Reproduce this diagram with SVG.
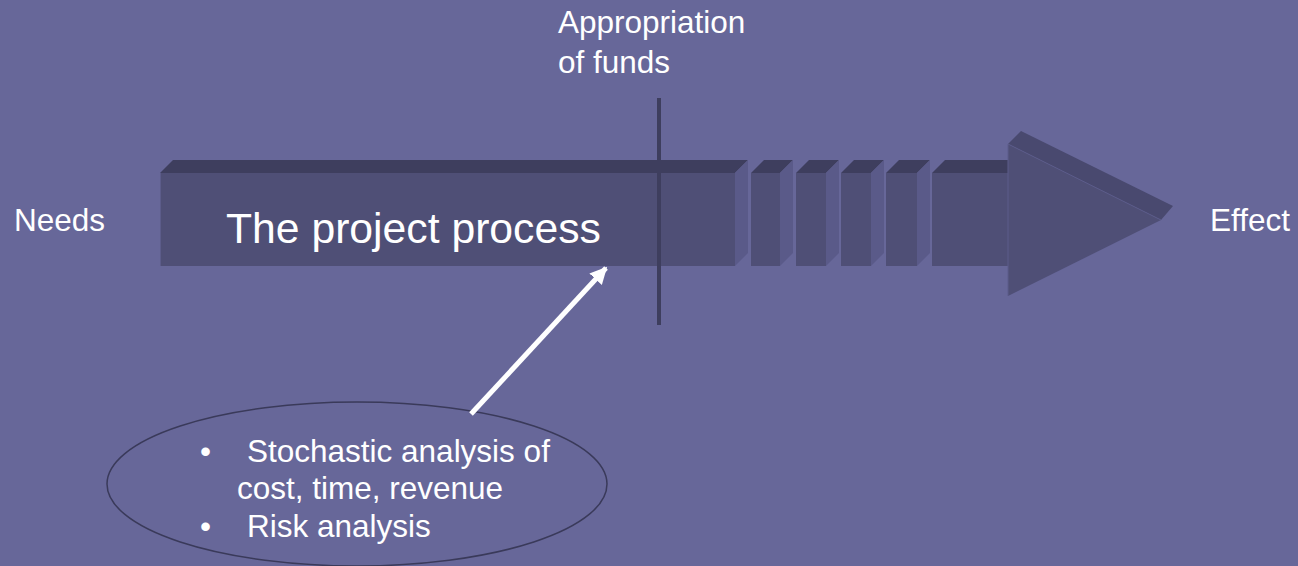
<svg xmlns="http://www.w3.org/2000/svg" width="1298" height="566" viewBox="0 0 1298 566">
<style>
text{font-family:"Liberation Sans",Arial,sans-serif;fill:#ffffff}
.lbl{font-size:31.5px}
.big{font-size:42.7px}
.front{fill:#4f4f76}
.top{fill:#3e3e5e}
.side{fill:#5a5a89}
.headtop{fill:#49496f}
.edge{stroke:#5c5c8a;stroke-width:1;fill:none}
</style>
<defs>
<marker id="ah" viewBox="0 0 10 10" refX="9" refY="5" markerWidth="3.4" markerHeight="3.8" orient="auto" markerUnits="strokeWidth">
<path d="M0,0 L10,5 L0,10 z" fill="#ffffff"/>
</marker>
</defs>
<rect width="1298" height="566" fill="#676799"/>

<g id="process-arrow">
  <!-- segment 1 -->
  <polygon class="top" points="160,173 173,160 748,160 735,173"/>
  <polygon class="side" points="735,173 748,160 748,253 735,266"/>
  <rect class="front" x="160" y="173" width="575" height="93"/>
  <line class="edge" x1="160.5" y1="173" x2="160.5" y2="266"/>
  <!-- segment 2 -->
  <polygon class="top" points="751,173 764,160 793,160 780,173"/>
  <polygon class="side" points="780,173 793,160 793,253 780,266"/>
  <rect class="front" x="751" y="173" width="29" height="93"/>
  <!-- segment 3 -->
  <polygon class="top" points="796,173 809,160 839,160 826,173"/>
  <polygon class="side" points="826,173 839,160 839,253 826,266"/>
  <rect class="front" x="796" y="173" width="30" height="93"/>
  <!-- segment 4 -->
  <polygon class="top" points="841,173 854,160 884,160 871,173"/>
  <polygon class="side" points="871,173 884,160 884,253 871,266"/>
  <rect class="front" x="841" y="173" width="30" height="93"/>
  <!-- segment 5 -->
  <polygon class="top" points="886,173 899,160 930,160 917,173"/>
  <polygon class="side" points="917,173 930,160 930,253 917,266"/>
  <rect class="front" x="886" y="173" width="31" height="93"/>
  <!-- segment 6 -->
  <polygon class="top" points="932,173 945,160 1008,160 1008,173"/>
  <rect class="front" x="932" y="173" width="77" height="93"/>
  <!-- head -->
  <polygon class="headtop" points="1008,144 1021,131 1173,206 1161,220"/>
  <polygon class="front" points="1008,144 1008,296 1161,220"/>
  <polyline class="edge" points="1008,296 1008,144 1161,220"/>
  <text class="big" x="226" y="243">The project process</text>
</g>

<g id="funds-line">
  <line x1="659" y1="98" x2="659" y2="325" stroke="#3e3e5e" stroke-width="4"/>
  <text class="lbl" x="558" y="33">Appropriation</text>
  <text class="lbl" x="558" y="73">of funds</text>
</g>

<g id="needs">
  <text class="lbl" x="14" y="231">Needs</text>
</g>

<g id="effect">
  <text class="lbl" x="1210" y="231">Effect</text>
</g>

<g id="analysis">
  <ellipse cx="357" cy="484" rx="250" ry="82" fill="none" stroke="#3a3a5a" stroke-width="1.5"/>
  <text class="lbl" x="200" y="462">•</text>
  <text class="lbl" x="247" y="462">Stochastic analysis of</text>
  <text class="lbl" x="237" y="499">cost, time, revenue</text>
  <text class="lbl" x="200" y="537">•</text>
  <text class="lbl" x="247" y="537">Risk analysis</text>
</g>

<g id="connectors">
  <line x1="471" y1="414" x2="606" y2="268" stroke="#ffffff" stroke-width="5" marker-end="url(#ah)"/>
</g>
</svg>
